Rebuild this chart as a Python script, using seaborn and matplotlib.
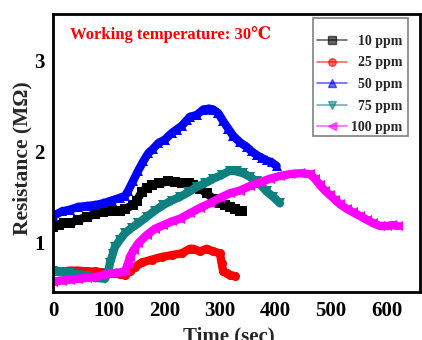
import numpy as np
import pandas as pd
import seaborn as sns
import matplotlib
matplotlib.use("Agg")
import matplotlib.pyplot as plt
from matplotlib.lines import Line2D
from matplotlib.patches import Rectangle
from matplotlib.ticker import MultipleLocator

# resistance traces (time in sec, resistance in MOhm)
t_10 = [0, 10, 20, 30, 45, 60, 75, 90, 105, 120, 129, 144, 150, 159, 168, 177, 190, 207, 220, 231, 245, 252, 264, 276, 288, 300, 310, 318, 328, 336, 340]
r_10 = [1.17, 1.19, 1.21, 1.21, 1.25, 1.28, 1.31, 1.33, 1.34, 1.35, 1.37, 1.41, 1.46, 1.55, 1.60, 1.63, 1.65, 1.67, 1.66, 1.65, 1.65, 1.63, 1.59, 1.54, 1.48, 1.43, 1.41, 1.39, 1.37, 1.35, 1.35]

t_25 = [0, 15, 30, 45, 60, 75, 90, 105, 120, 129, 138, 147, 160, 177, 195, 213, 231, 246, 252, 264, 276, 288, 300, 303, 306, 312, 318, 327]
r_25 = [0.68, 0.68, 0.69, 0.69, 0.68, 0.68, 0.67, 0.66, 0.65, 0.64, 0.68, 0.73, 0.78, 0.81, 0.84, 0.86, 0.88, 0.93, 0.93, 0.90, 0.93, 0.90, 0.88, 0.77, 0.68, 0.66, 0.64, 0.63]

t_50 = [0, 15, 30, 45, 60, 75, 90, 105, 120, 129, 135, 144, 153, 162, 171, 180, 189, 201, 213, 222, 231, 240, 246, 258, 270, 280, 288, 297, 306, 315, 324, 336, 348, 357, 366, 375, 384, 393, 402]
r_50 = [1.29, 1.34, 1.36, 1.39, 1.40, 1.41, 1.43, 1.46, 1.49, 1.51, 1.57, 1.68, 1.79, 1.89, 1.98, 2.03, 2.09, 2.13, 2.20, 2.24, 2.28, 2.34, 2.38, 2.40, 2.46, 2.47, 2.46, 2.42, 2.33, 2.25, 2.17, 2.10, 2.05, 2.00, 1.96, 1.93, 1.90, 1.88, 1.84]

t_75 = [0, 15, 30, 45, 60, 75, 93, 98, 102, 107, 111, 120, 129, 141, 153, 168, 183, 198, 213, 228, 243, 258, 273, 288, 303, 318, 330, 342, 354, 366, 375, 384, 396, 408]
r_75 = [0.68, 0.67, 0.66, 0.64, 0.63, 0.61, 0.60, 0.66, 0.77, 0.87, 0.95, 1.03, 1.10, 1.16, 1.21, 1.28, 1.35, 1.41, 1.46, 1.50, 1.55, 1.61, 1.65, 1.70, 1.74, 1.79, 1.78, 1.76, 1.72, 1.67, 1.62, 1.56, 1.50, 1.43]

t_100 = [0, 15, 30, 45, 60, 75, 90, 105, 120, 129, 134, 138, 145, 153, 168, 183, 198, 213, 228, 246, 264, 282, 300, 318, 336, 354, 372, 390, 408, 426, 444, 462, 471, 480, 489, 498, 507, 516, 528, 540, 552, 564, 576, 588, 600, 610, 620]
r_100 = [0.57, 0.58, 0.59, 0.60, 0.61, 0.62, 0.64, 0.66, 0.67, 0.68, 0.76, 0.84, 0.92, 0.99, 1.08, 1.15, 1.19, 1.23, 1.26, 1.32, 1.38, 1.43, 1.49, 1.54, 1.57, 1.62, 1.66, 1.70, 1.73, 1.75, 1.76, 1.75, 1.70, 1.63, 1.57, 1.52, 1.47, 1.42, 1.37, 1.33, 1.29, 1.25, 1.21, 1.18, 1.18, 1.19, 1.18]

labels = ["10 ppm", "25 ppm", "50 ppm", "75 ppm", "100 ppm"]
colors = ["#000000", "#FF0000", "#0000FF", "#0F8080", "#FF00FF"]
markers = ["s", "o", "^", "v", "<"]

sns.set_style("white")
plt.rcParams["font.family"] = ["Liberation Serif", "DejaVu Serif"]
plt.rcParams["font.weight"] = "bold"
plt.rcParams["mathtext.default"] = "regular"

fig = plt.figure(figsize=(4.22, 3.40), dpi=100)
ax = fig.add_axes([0.1263, 0.1426, 0.8687, 0.8162])

series = [(t_10, r_10), (t_25, r_25), (t_50, r_50), (t_75, r_75), (t_100, r_100)]
for (t, r), lab, c, m in zip(series, labels, colors, markers):
    df = pd.DataFrame({"time": t, "res": r})
    sns.lineplot(data=df, x="time", y="res", ax=ax, color=c, linewidth=6,
                 marker=m, markersize=6.5, markeredgewidth=0, sort=False,
                 estimator=None, legend=False)

ax.set_xlim(0, 660)
ax.set_ylim(0.46, 3.51)
ax.xaxis.set_major_locator(MultipleLocator(100))
ax.xaxis.set_minor_locator(MultipleLocator(50))
ax.yaxis.set_major_locator(MultipleLocator(1))
ax.yaxis.set_minor_locator(MultipleLocator(0.5))
ax.tick_params(which="both", direction="in", width=1.5, colors="black",
               labelsize=15, top=False, right=False)
ax.tick_params(which="major", length=5)
ax.tick_params(which="minor", length=3)
ax.tick_params(axis="x", pad=7)
ax.tick_params(axis="y", pad=6)
for lab in ax.get_xticklabels() + ax.get_yticklabels():
    lab.set_fontweight("bold")
for s in ax.spines.values():
    s.set_linewidth(2)
    s.set_color("black")

ax.set_xlabel("Time (sec)", fontsize=15, fontweight="bold")
ax.set_ylabel("Resistance (M\u03a9)", fontsize=15.5, fontweight="bold")
ax.xaxis.set_label_coords(0.48, -0.125, transform=ax.transAxes)
ax.yaxis.set_label_coords(-0.085, 0.48, transform=ax.transAxes)
ax.yaxis.label.set_va("center")
ax.xaxis.label.set_va("top")

ax.text(0.0455, 0.909, "Working temperature: 30\u2103", transform=ax.transAxes,
        color="#FF0000", fontsize=12, fontweight="bold", va="baseline", ha="left")

# legend frame drawn separately: the original has extra room above the first row
ax.add_patch(Rectangle((0.708, 0.560), 0.259, 0.426, transform=ax.transAxes,
                       facecolor="white", edgecolor="#808080", linewidth=1.2,
                       zorder=4))

# right-align the entry texts like the original (two spaces ~ one digit)
leg_labels = [("  " + s) if len(s) < 7 else s for s in labels]
handles = [Line2D([0], [0], color=c, alpha=0.6, linewidth=1.2, marker=m,
                  markersize=5.5, markerfacecolor=c, markeredgecolor=c)
           for c, m in zip(colors, markers)]
leg = ax.legend(handles, leg_labels, loc="center right", bbox_to_anchor=(0.965, 0.746),
                borderaxespad=0, frameon=False, handlelength=2.2,
                handletextpad=0.3, labelspacing=0.62, borderpad=0.3,
                prop={"weight": "bold", "size": 10})
leg.set_zorder(5)

fig.savefig("out.png", dpi=100)
